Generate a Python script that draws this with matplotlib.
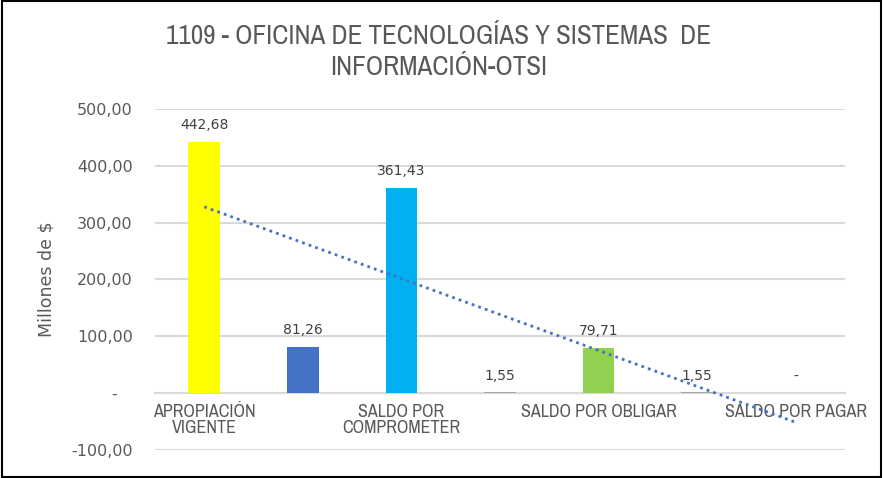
import numpy as np
import matplotlib.pyplot as plt
from matplotlib import font_manager
from matplotlib.patches import Rectangle

# data
categorias = ["APROPIACIÓN VIGENTE", "COMPROMISOS", "SALDO POR COMPROMETER",
              "OBLIGACIONES", "SALDO POR OBLIGAR", "PAGOS", "SALDO POR PAGAR"]
etiquetas_x = ["APROPIACIÓN\nVIGENTE", "", "SALDO POR\nCOMPROMETER", "",
               "SALDO POR OBLIGAR", "", "SALDO POR PAGAR"]
valores = [442.68, 81.26, 361.43, 1.55, 79.71, 1.55, 0.0]
colores = ["#FFFF00", "#4472C4", "#00B0F0", "#A5A5A5", "#92D050", "#A5A5A5", "#A5A5A5"]
y_ticks = [-100, 0, 100, 200, 300, 400, 500]

available = {f.name for f in font_manager.fontManager.ttflist}


def pick(cands):
    for c in cands:
        if c in available:
            return [c, "DejaVu Sans"]
    return ["DejaVu Sans"]


NARROW = pick(["Arial Narrow", "Liberation Sans Narrow", "Archivo Narrow",
               "PT Sans Narrow", "Roboto Condensed", "Open Sans Condensed",
               "Pragati Narrow", "Liberation Sans"])
WIDE = ["DejaVu Sans"]
GRAY_TXT = "#595959"
GRID = "#D9D9D9"


def fmt(v):
    if v == 0:
        return "-"
    return f"{v:,.2f}".replace(",", "X").replace(".", ",").replace("X", ".")


fig = plt.figure(figsize=(8.83, 4.78), dpi=100)
fig.patches.append(Rectangle((0.002, 0.002), 0.996, 0.996, transform=fig.transFigure,
                             fill=False, edgecolor="black", linewidth=1.5))
ax = fig.add_axes([0.1755, 0.0586, 0.7814, 0.7134])

x = np.arange(len(valores))
ax.bar(x, valores, width=0.32, color=colores, zorder=3)

# linear trendline (Excel style)
m, b = np.polyfit(x, valores, 1)
ax.plot(x, m * x + b, linestyle=(0, (1, 1.5)), color="#4472C4", linewidth=2, zorder=4)

for xi, v in zip(x, valores):
    ax.annotate(fmt(v), (xi, v), xytext=(0, 7), textcoords="offset points",
                ha="center", va="bottom", fontsize=10, color="#404040", family=WIDE)

ax.set_xlim(-0.5, len(valores) - 0.5)
ax.set_ylim(-100, 500)
ax.set_yticks(y_ticks)
ax.set_yticklabels([fmt(t) if t != 0 else "-   " for t in y_ticks],
                   fontsize=11.5, color=GRAY_TXT, family=WIDE)
ax.tick_params(axis="y", length=0, pad=16)
ax.grid(axis="y", color=GRID, linewidth=1.5, zorder=0)

ax.spines["bottom"].set_position(("data", 0))
ax.spines["bottom"].set_color(GRID)
ax.spines["bottom"].set_linewidth(1.5)
for s in ["top", "right", "left"]:
    ax.spines[s].set_visible(False)
ax.set_xticks(x)
ax.set_xticklabels(etiquetas_x, fontsize=13, color=GRAY_TXT, family=NARROW,
                   linespacing=1.0)
ax.tick_params(axis="x", length=0, pad=8)

ax.set_ylabel("Millones de $", fontsize=12.5, color=GRAY_TXT, family=WIDE, labelpad=11)

fig.text(0.497, 0.891, "1109 - OFICINA DE TECNOLOGÍAS Y SISTEMAS  DE\nINFORMACIÓN-OTSI",
         ha="center", va="center", fontsize=19.5, color=GRAY_TXT, family=NARROW,
         linespacing=1.33)

fig.savefig("out.png", dpi=100)
